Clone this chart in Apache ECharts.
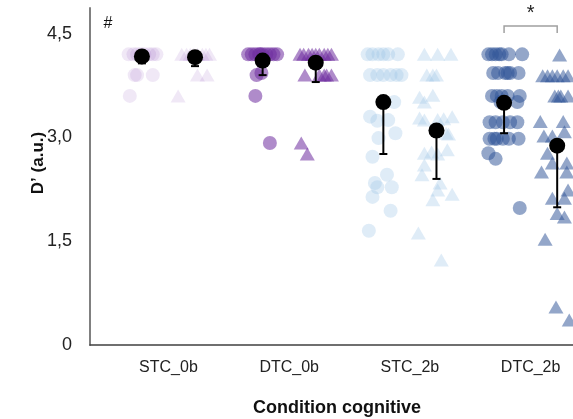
<!DOCTYPE html>
<html><head><meta charset="utf-8">
<script src="https://cdn.jsdelivr.net/npm/echarts@6/dist/echarts.min.js"></script>
<style>html,body{margin:0;padding:0;background:#fff}#c{width:573px;height:419px}</style>
</head><body><div id="c"></div>
<script>
const categories = ['STC_0b','DTC_0b','STC_2b','DTC_2b'];
const yTickValues = [0, 1.5, 3, 4.5];
const yTickLabels = ['0','1,5','3,0','4,5'];

const stc0bCircleVals = [4.2,4.2,4.2,4.2,4.2,4.2,4.2,4.2,3.9,3.9,3.9,3.6];
const stc0bCircleJit  = [-0.33,-0.29,-0.26,-0.23,-0.20,-0.16,-0.13,-0.10,-0.28,-0.26,-0.13,-0.32];
const stc0bTriVals = [4.2,4.2,4.2,4.2,4.2,4.2,4.2,4.2,3.9,3.9,3.6];
const stc0bTriJit  = [0.11,0.15,0.18,0.21,0.24,0.28,0.31,0.34,0.24,0.32,0.08];

const dtc0bCircleVals = [4.2,4.2,4.2,4.2,4.2,4.2,4.2,4.2,4.2,4.2,3.9,3.93,3.6,2.92];
const dtc0bCircleJit  = [-0.34,-0.31,-0.28,-0.25,-0.22,-0.19,-0.16,-0.13,-0.10,-0.24,-0.27,-0.23,-0.28,-0.16];
const dtc0bTriVals = [4.2,4.2,4.2,4.2,4.2,4.2,4.2,4.2,4.2,3.9,3.9,3.9,3.9,3.9,2.92,2.76];
const dtc0bTriJit  = [0.09,0.12,0.16,0.19,0.22,0.25,0.29,0.32,0.35,0.13,0.25,0.29,0.31,0.35,0.10,0.15];

const stc2bCircleVals = [4.2,4.2,4.2,4.2,4.2,4.2,3.9,3.9,3.9,3.9,3.9,3.9,3.51,3.3,3.24,3.25,3.06,2.99,2.72,2.46,2.34,2.28,2.28,2.14,1.94,1.65];
const stc2bCircleJit  = [-0.35,-0.31,-0.26,-0.22,-0.18,-0.10,-0.33,-0.27,-0.22,-0.16,-0.11,-0.07,-0.13,-0.33,-0.27,-0.18,-0.12,-0.26,-0.31,-0.19,-0.29,-0.27,-0.15,-0.31,-0.16,-0.34];
const stc2bTriVals = [4.2,4.2,4.2,3.9,3.9,3.9,3.58,3.51,3.61,3.28,3.25,3.26,3.27,3.3,3.06,3.05,2.77,2.79,2.76,2.82,2.6,2.46,2.34,2.24,2.18,2.1,1.62,1.23];
const stc2bTriJit  = [0.12,0.23,0.34,0.14,0.19,0.22,0.08,0.12,0.19,0.08,0.12,0.23,0.28,0.35,0.30,0.32,0.12,0.18,0.23,0.31,0.12,0.10,0.25,0.23,0.35,0.19,0.07,0.26];

const dtc2bCircleVals = [4.2,4.2,4.2,4.2,4.2,4.2,4.2,3.93,3.93,3.93,3.93,3.93,3.93,3.6,3.6,3.6,3.6,3.6,3.51,3.51,3.22,3.22,3.22,3.22,3.22,2.98,2.98,2.98,2.98,2.98,2.98,2.77,2.69,1.98];
const dtc2bCircleJit  = [-0.35,-0.32,-0.29,-0.26,-0.24,-0.18,-0.07,-0.31,-0.27,-0.21,-0.19,-0.17,-0.10,-0.32,-0.28,-0.24,-0.19,-0.09,-0.25,-0.11,-0.34,-0.29,-0.23,-0.17,-0.11,-0.34,-0.30,-0.28,-0.23,-0.18,-0.10,-0.35,-0.29,-0.09];
const dtc2bTriVals = [4.19,3.89,3.89,3.89,3.89,3.89,3.89,3.6,3.6,3.6,3.6,3.23,3.23,3.02,3.02,3.08,2.77,2.63,2.63,2.5,2.5,2.24,2.12,2.12,1.9,1.85,1.53,0.55,0.36];
const dtc2bTriJit  = [0.24,0.10,0.14,0.18,0.22,0.27,0.31,0.20,0.23,0.25,0.31,0.08,0.27,0.11,0.18,0.28,0.14,0.18,0.30,0.09,0.30,0.31,0.18,0.28,0.22,0.28,0.12,0.21,0.32];

const meanCircle    = [4.17, 4.11, 3.51, 3.50];
const meanCircleLow = [4.07, 3.90, 2.76, 3.06];
const meanTri       = [4.16, 4.08, 3.10, 2.88];
const meanTriLow    = [4.03, 3.80, 2.40, 1.99];

const groupColors = ['rgba(160,110,200,0.2)','rgba(112,48,160,0.7)','rgba(157,195,230,0.4)','rgba(47,85,151,0.65)'];
const circleSets = [[stc0bCircleVals,stc0bCircleJit],[dtc0bCircleVals,dtc0bCircleJit],[stc2bCircleVals,stc2bCircleJit],[dtc2bCircleVals,dtc2bCircleJit]];
const triSets = [[stc0bTriVals,stc0bTriJit],[dtc0bTriVals,dtc0bTriJit],[stc2bTriVals,stc2bTriJit],[dtc2bTriVals,dtc2bTriJit]];
const OFF = 0.22;
const FONT = 'Arial, "Liberation Sans", sans-serif';

const series = [];
categories.forEach((c, i) => {
  const pos = i + 1;
  const [cv, cj] = circleSets[i];
  series.push({type:'scatter', name:c+' circles', symbol:'circle', symbolSize:14, z:2,
    itemStyle:{color:groupColors[i]}, silent:true,
    data: cv.map((v,k)=>[pos+cj[k], v])});
  const [tv, tj] = triSets[i];
  series.push({type:'scatter', name:c+' triangles', symbol:'triangle', symbolSize:[15,13], z:2,
    itemStyle:{color:groupColors[i]}, silent:true,
    data: tv.map((v,k)=>[pos+tj[k], v])});
});
const errData = [];
const meanData = [];
categories.forEach((c,i)=>{
  errData.push([i+1-OFF, meanCircle[i], meanCircleLow[i]]);
  errData.push([i+1+OFF, meanTri[i], meanTriLow[i]]);
  meanData.push([i+1-OFF, meanCircle[i]]);
  meanData.push([i+1+OFF, meanTri[i]]);
});
series.push({type:'custom', z:5, silent:true, data: errData,
  renderItem:(params, api)=>{
    const p1 = api.coord([api.value(0), api.value(1)]);
    const p2 = api.coord([api.value(0), api.value(2)]);
    return {type:'group', children:[
      {type:'line', shape:{x1:p1[0],y1:p1[1],x2:p2[0],y2:p2[1]}, style:{stroke:'#000', lineWidth:2}},
      {type:'line', shape:{x1:p2[0]-4,y1:p2[1],x2:p2[0]+4,y2:p2[1]}, style:{stroke:'#000', lineWidth:2}}
    ]};
  }});
series.push({type:'scatter', z:6, silent:true, symbol:'circle', symbolSize:16, itemStyle:{color:'#000', opacity:1}, data: meanData});
// significance bracket between DTC_2b groups
series.push({type:'custom', z:6, silent:true, data:[[4-OFF, 4+OFF, 4.61, 4.51]],
  renderItem:(params, api)=>{
    const a = api.coord([api.value(0), api.value(2)]);
    const b = api.coord([api.value(1), api.value(2)]);
    const a2 = api.coord([api.value(0), api.value(3)]);
    const b2 = api.coord([api.value(1), api.value(3)]);
    return {type:'group', children:[
      {type:'polyline', shape:{points:[a2,a,b,b2]}, style:{stroke:'#a0a0a0', lineWidth:1.5, fill:null}},
      {type:'text', style:{text:'*', x:(a[0]+b[0])/2, y:a[1]-3, align:'center', verticalAlign:'bottom', font:'20px '+FONT, fill:'#222'}}
    ]};
  }});

const chart = echarts.init(document.getElementById('c'), null, {renderer:'canvas'});
chart.setOption({
  animation:false,
  backgroundColor:'#fff',
  grid:{left:90, right:0, top:8, bottom:74, containLabel:false},
  xAxis:{type:'value', min:0.35, max:4.351,
    axisLine:{show:true, onZero:false, lineStyle:{color:'#404040', width:1.5}},
    axisTick:{show:false}, splitLine:{show:false},
    axisLabel:{customValues:[1,2,3,4], formatter:(v)=>categories[Math.round(v)-1]||'', fontSize:16, color:'#222', margin:15, fontFamily:FONT}},
  yAxis:{type:'value', min:0, max:4.87,
    axisLine:{show:true, lineStyle:{color:'#808080', width:2}},
    axisTick:{show:false}, splitLine:{show:false},
    axisLabel:{customValues:yTickValues, formatter:(v)=>{const k=yTickValues.findIndex(t=>Math.abs(t-v)<1e-6);return k>=0?yTickLabels[k]:'';}, fontSize:18, color:'#222', margin:18, fontFamily:FONT}},
  graphic:[
    {type:'text', x:38, y:163, rotation:Math.PI/2, style:{text:'D’ (a.u.)', font:'bold 17px '+FONT, fill:'#111', align:'center', verticalAlign:'middle'}},
    {type:'text', x:337, y:408, style:{text:'Condition cognitive', font:'bold 18px '+FONT, fill:'#111', align:'center', verticalAlign:'middle'}},
    {type:'text', x:108, y:24, style:{text:'#', font:'16px '+FONT, fill:'#111', align:'center', verticalAlign:'middle'}}
  ],
  series: series
});
</script>
</body></html>
